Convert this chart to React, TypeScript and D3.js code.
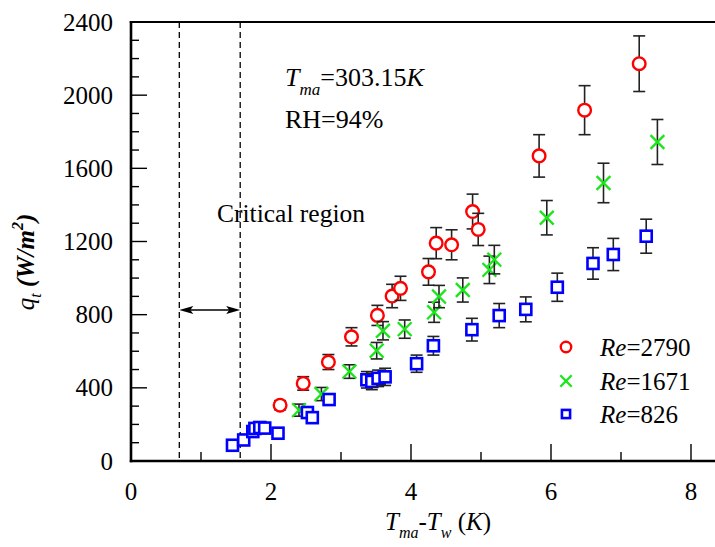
import React from "react";
import * as d3 from "d3";

// Re = 2790 series
const reHighX = [2.13, 2.46, 2.82, 3.15, 3.52, 3.73, 3.85, 4.25, 4.36, 4.58, 4.88, 4.96, 5.83, 6.48, 7.26];
const reHighQ = [305, 424, 541, 679, 796, 902, 944, 1034, 1191, 1182, 1364, 1266, 1668, 1918, 2172];
const reHighErr = [25, 37, 41, 50, 55, 64, 66, 73, 85, 82, 95, 88, 116, 134, 152];

// Re = 1671 series
const reMidX = [2.4, 2.72, 3.12, 3.51, 3.6, 3.91, 4.33, 4.4, 4.74, 5.12, 5.19, 5.94, 6.75, 7.52];
const reMidQ = [278, 366, 489, 603, 712, 721, 813, 899, 935, 1045, 1101, 1330, 1520, 1744];
const reMidErr = [33, 36, 37, 45, 50, 50, 55, 61, 66, 75, 78, 94, 108, 123];

// Re = 826 series
const reLowX = [1.45, 1.61, 1.74, 1.77, 1.84, 1.91, 2.1, 2.52, 2.59, 2.83, 3.37, 3.44, 3.53, 3.63, 4.08, 4.32, 4.87, 5.26, 5.64, 6.09, 6.6, 6.89, 7.36];
const reLowQ = [86, 115, 161, 178, 183, 180, 152, 265, 237, 336, 444, 435, 452, 460, 532, 630, 718, 795, 829, 950, 1080, 1129, 1229];
const reLowErr = [20, 20, 20, 20, 20, 20, 20, 25, 25, 30, 45, 45, 45, 47, 47, 51, 62, 66, 68, 77, 86, 88, 93];

const xMajorTicks = [0, 2, 4, 6, 8];
const xMinorTicks = [1, 3, 5, 7];
const yMajorTicks = [0, 400, 800, 1200, 1600, 2000, 2400];
const yMinorTicks = d3.range(100, 2400, 100).filter((v) => v % 400 !== 0);

// Critical region bounds (K)
const criticalBounds = [0.69, 1.56];

const legendLabels = ["2790", "1671", "826"];

const W = 715;
const H = 547;
const FONT = "'Liberation Serif', 'Times New Roman', serif";
const RED = "#ff0000";
const GREEN = "#19e619";
const BLUE = "#0000ff";

const x = d3.scaleLinear().domain([0, 8.35]).range([131, 715.5]);
const y = d3.scaleLinear().domain([0, 2400]).range([461, 22]);

type Kind = "circle" | "cross" | "square";

function Marker({ kind, cx, cy, s }: { kind: Kind; cx: number; cy: number; s: number }) {
  if (kind === "circle") {
    return <circle cx={cx} cy={cy} r={s * 0.55} fill="#fff" stroke={RED} strokeWidth={2.4} />;
  }
  if (kind === "cross") {
    const h = s * 0.6;
    return (
      <g stroke={GREEN} strokeWidth={2.3}>
        <line x1={cx - h} y1={cy - h} x2={cx + h} y2={cy + h} />
        <line x1={cx - h} y1={cy + h} x2={cx + h} y2={cy - h} />
      </g>
    );
  }
  const h = s * 0.48;
  return (
    <rect x={cx - h} y={cy - h} width={2 * h} height={2 * h} fill="#fff" stroke={BLUE} strokeWidth={2.6} />
  );
}

function Series({ xs, qs, errs, kind }: { xs: number[]; qs: number[]; errs: number[]; kind: Kind }) {
  return (
    <g>
      {xs.map((xv, i) => {
        const cx = x(xv);
        const cy = y(qs[i]);
        const top = y(qs[i] + errs[i]);
        const bot = y(qs[i] - errs[i]);
        const cap = 6;
        return (
          <g key={i}>
            <g stroke="#222" strokeWidth={1.6}>
              <line x1={cx} y1={top} x2={cx} y2={bot} />
              <line x1={cx - cap} y1={top} x2={cx + cap} y2={top} />
              <line x1={cx - cap} y1={bot} x2={cx + cap} y2={bot} />
            </g>
            <Marker kind={kind} cx={cx} cy={cy} s={11.5} />
          </g>
        );
      })}
    </g>
  );
}

export default function App() {
  const [x0] = x.range();
  const [y0, y1] = y.range();
  const arrowY = 310;
  const ax0 = x(criticalBounds[0]);
  const ax1 = x(criticalBounds[1]);
  const legendKinds: Kind[] = ["circle", "cross", "square"];
  const legendY = [347, 381, 414];

  return (
    <div style={{ position: "fixed", left: 0, top: 0, width: W, height: H, background: "#fff" }}>
      <svg width={W} height={H} style={{ display: "block" }} fontFamily={FONT}>
        <rect width={W} height={H} fill="#fff" />

        {/* critical region boundaries */}
        {criticalBounds.map((b, i) => (
          <line key={i} x1={x(b)} x2={x(b)} y1={y1} y2={y0} stroke="#000" strokeWidth={1.3} strokeDasharray="6,4" />
        ))}

        {/* double-headed arrow */}
        <g>
          <line x1={ax0 + 10} x2={ax1 - 10} y1={arrowY} y2={arrowY} stroke="#000" strokeWidth={1.3} />
          <path d={`M${ax0},${arrowY} L${ax0 + 14},${arrowY - 4} L${ax0 + 11},${arrowY} L${ax0 + 14},${arrowY + 4} Z`} fill="#000" />
          <path d={`M${ax1},${arrowY} L${ax1 - 14},${arrowY - 4} L${ax1 - 11},${arrowY} L${ax1 - 14},${arrowY + 4} Z`} fill="#000" />
        </g>

        {/* ticks */}
        <g stroke="#000" strokeWidth={1.4}>
          {xMajorTicks.map((t) => (
            <line key={"xM" + t} x1={x(t)} x2={x(t)} y1={y0} y2={y0 - 17} />
          ))}
          {xMinorTicks.map((t) => (
            <line key={"xm" + t} x1={x(t)} x2={x(t)} y1={y0} y2={y0 - 9} />
          ))}
          {yMajorTicks.map((t) => (
            <line key={"yM" + t} x1={x0} x2={x0 + 16} y1={y(t)} y2={y(t)} />
          ))}
          {yMinorTicks.map((t) => (
            <line key={"ym" + t} x1={x0} x2={x0 + 8} y1={y(t)} y2={y(t)} />
          ))}
        </g>

        {/* frame */}
        <line x1={x0} x2={x0} y1={y1 - 1} y2={y0 + 1.2} stroke="#000" strokeWidth={2.6} />
        <line x1={x0 - 1.2} x2={W} y1={y0} y2={y0} stroke="#000" strokeWidth={2.6} />
        <line x1={x0 - 1.2} x2={W} y1={y1} y2={y1} stroke="#000" strokeWidth={2.2} />

        {/* tick labels */}
        <g fontSize={25} fill="#000">
          {xMajorTicks.map((t) => (
            <text key={"xl" + t} x={x(t)} y={500} textAnchor="middle">
              {t}
            </text>
          ))}
          {yMajorTicks.map((t) => (
            <text key={"yl" + t} x={113} y={y(t) + 8.5} textAnchor="end">
              {t}
            </text>
          ))}
        </g>

        {/* data */}
        <Series xs={reHighX} qs={reHighQ} errs={reHighErr} kind="circle" />
        <Series xs={reMidX} qs={reMidQ} errs={reMidErr} kind="cross" />
        <Series xs={reLowX} qs={reLowQ} errs={reLowErr} kind="square" />

        {/* annotations */}
        <text x={285} y={86} fontSize={26}>
          <tspan fontStyle="italic">T</tspan>
          <tspan fontStyle="italic" fontSize={17} dy={9}>ma</tspan>
          <tspan dy={-9}>=303.15</tspan>
          <tspan fontStyle="italic">K</tspan>
        </text>
        <text x={285} y={128} fontSize={26}>RH=94%</text>
        <text x={217} y={222} fontSize={25.5}>Critical region</text>

        {/* legend */}
        {legendLabels.map((lab, i) => (
          <g key={lab}>
            <Marker kind={legendKinds[i]} cx={566} cy={legendY[i]} s={legendKinds[i] === "square" ? 8.5 : 9.5} />
            <text x={600} y={legendY[i] + 9} fontSize={25}>
              <tspan fontStyle="italic">Re</tspan>
              <tspan>={lab}</tspan>
            </text>
          </g>
        ))}

        {/* axis titles */}
        <text x={385} y={530} fontSize={25}>
          <tspan fontStyle="italic">T</tspan>
          <tspan fontStyle="italic" fontSize={16} dy={8}>ma</tspan>
          <tspan dy={-8}>-</tspan>
          <tspan fontStyle="italic">T</tspan>
          <tspan fontStyle="italic" fontSize={16} dy={8}>w</tspan>
          <tspan dy={-8}> (</tspan>
          <tspan fontStyle="italic">K</tspan>
          <tspan>)</tspan>
        </text>
        <text transform="translate(34,262) rotate(-90)" textAnchor="middle" fontSize={25} fontStyle="italic">
          <tspan>q</tspan>
          <tspan fontSize={16} dy={7}>t</tspan>
          <tspan dy={-7} fontWeight="bold"> (W/m</tspan>
          <tspan fontSize={16} dy={-11} fontWeight="bold">2</tspan>
          <tspan dy={11} fontWeight="bold">)</tspan>
        </text>
      </svg>
    </div>
  );
}
